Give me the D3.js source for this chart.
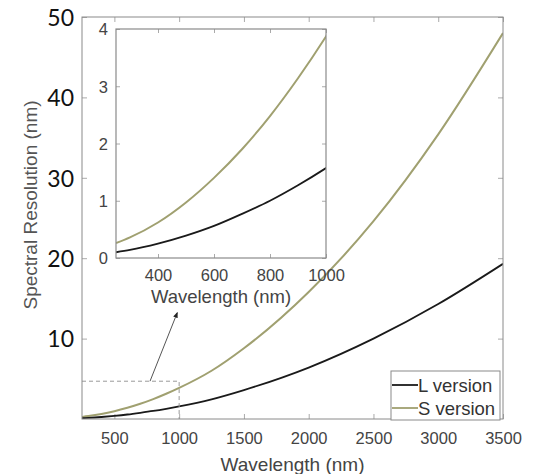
<!DOCTYPE html>
<html><head><meta charset="utf-8">
<script src="https://cdnjs.cloudflare.com/ajax/libs/d3/7.8.5/d3.min.js"></script>
<style>body{margin:0;background:#fff}svg{display:block}</style>
</head><body>
<svg id="c" width="536" height="474"></svg>
<script>
// ---- data ----
const wavelengths = [250, 300, 400, 500, 600, 700, 800, 900, 1000, 1250, 1500, 2000, 2500, 3000, 3500];
const sVersion    = [0.26, 0.36, 0.62, 0.97, 1.40, 1.90, 2.48, 3.14, 3.87, 6.0, 8.8, 15.8, 24.6, 35.4, 48.0];
const lVersion    = [0.10, 0.14, 0.25, 0.39, 0.56, 0.77, 1.00, 1.27, 1.57, 2.45, 3.6, 6.4, 10.0, 14.3, 19.3];
const seriesNames = ["L version", "S version"];
const mainXTicks  = [500, 1000, 1500, 2000, 2500, 3000, 3500];
const mainYTicks  = [10, 20, 30, 40, 50];
const insetXTicks = [400, 600, 800, 1000];
const insetYTicks = [0, 1, 2, 3, 4];
const zoomBoxX = [250, 1000];
const zoomBoxY = [0, 4.7];
const arrowFrom = [775, 4.7];
const arrowTo   = [985, 13.2];

const colors = {"L version": "#1a1a1a", "S version": "#a0a070"};
const seriesData = {"L version": lVersion, "S version": sVersion};

const svg = d3.select("#c");
const axisColor = "#8a8a8a", tickColor = "#aaa", textColor = "#444";

// ---- main chart ----
const M = {l: 82, r: 503, t: 17, b: 419};
const x = d3.scaleLinear().domain([250, 3500]).range([M.l, M.r]);
const y = d3.scaleLinear().domain([0, 50]).range([M.b, M.t]);

svg.append("defs").append("clipPath").attr("id", "mainClip")
  .append("rect").attr("x", M.l).attr("y", M.t).attr("width", M.r - M.l).attr("height", M.b - M.t);
svg.append("defs").append("marker").attr("id", "ah").attr("viewBox", "0 0 10 10")
  .attr("refX", 8).attr("refY", 5).attr("markerWidth", 6).attr("markerHeight", 6).attr("orient", "auto")
  .append("path").attr("d", "M0,1 L10,5 L0,9 z").attr("fill", "#222");

// ticks (inward, all four sides)
const gAx = svg.append("g");
gAx.append("g").attr("transform", `translate(0,${M.b})`)
  .call(d3.axisBottom(x).tickValues(mainXTicks).tickSize(-5).tickFormat(d3.format("d")))
  .call(g => { g.select(".domain").remove(); g.selectAll("line").attr("stroke", tickColor);
    g.selectAll("text").attr("dy", null).attr("y", 25).attr("fill", textColor)
     .style("font-family", "Liberation Sans, Arial, sans-serif").style("font-size", "16.5px"); });
gAx.append("g").attr("transform", `translate(0,${M.t})`)
  .call(d3.axisTop(x).tickValues(mainXTicks).tickSize(-5).tickFormat(""))
  .call(g => { g.select(".domain").remove(); g.selectAll("line").attr("stroke", tickColor); });
gAx.append("g").attr("transform", `translate(${M.l},0)`)
  .call(d3.axisLeft(y).tickValues(mainYTicks).tickSize(-5).tickFormat(d3.format("d")))
  .call(g => { g.select(".domain").remove(); g.selectAll("line").attr("stroke", tickColor);
    g.selectAll("text").attr("x", -8).attr("dy", "0.36em").attr("fill", "#111")
     .style("font-family", "Lato, sans-serif").style("font-size", "23px"); });
gAx.append("g").attr("transform", `translate(${M.r},0)`)
  .call(d3.axisRight(y).tickValues(mainYTicks).tickSize(-5).tickFormat(""))
  .call(g => { g.select(".domain").remove(); g.selectAll("line").attr("stroke", tickColor); });

const lineMain = key => d3.line().curve(d3.curveMonotoneX)
  .x((d, i) => x(wavelengths[i])).y(d => y(d))(seriesData[key]);

const gLines = svg.append("g").attr("clip-path", "url(#mainClip)");
["S version", "L version"].forEach(k => {
  gLines.append("path").attr("d", lineMain(k)).attr("fill", "none")
    .attr("stroke", colors[k]).attr("stroke-width", k === "S version" ? 2 : 1.8);
});

// dashed zoom box
svg.append("path")
  .attr("d", `M${x(zoomBoxX[0])},${y(zoomBoxY[1])} H${x(zoomBoxX[1])} V${y(zoomBoxY[0])}`)
  .attr("fill", "none").attr("stroke", "#999").attr("stroke-width", 1).attr("stroke-dasharray", "4,3");
// arrow
svg.append("line").attr("x1", x(arrowFrom[0])).attr("y1", y(arrowFrom[1]))
  .attr("x2", x(arrowTo[0])).attr("y2", y(arrowTo[1]))
  .attr("stroke", "#555").attr("stroke-width", 1).attr("marker-end", "url(#ah)");

// main box
svg.append("rect").attr("x", M.l).attr("y", M.t).attr("width", M.r - M.l).attr("height", M.b - M.t)
  .attr("fill", "none").attr("stroke", axisColor).attr("stroke-width", 1);

// axis titles
svg.append("text").attr("x", (M.l + M.r) / 2).attr("y", 471).attr("text-anchor", "middle")
  .attr("fill", textColor).style("font-family", "Liberation Sans, Arial, sans-serif").style("font-size", "19px")
  .text("Wavelength (nm)");
svg.append("text").attr("transform", "translate(37,205) rotate(-90)").attr("text-anchor", "middle")
  .attr("fill", "#555").style("font-family", "Liberation Sans, Arial, sans-serif").style("font-size", "19px")
  .text("Spectral Resolution (nm)");

// legend
const L = {x: 391, y: 371, w: 109, h: 49};
svg.append("rect").attr("x", L.x).attr("y", L.y).attr("width", L.w).attr("height", L.h)
  .attr("fill", "#fff").attr("stroke", axisColor).attr("stroke-width", 1);
seriesNames.forEach((k, i) => {
  const yy = L.y + 14 + i * 23;
  svg.append("line").attr("x1", L.x + 1).attr("x2", L.x + 27).attr("y1", yy).attr("y2", yy)
    .attr("stroke", colors[k]).attr("stroke-width", 1.8);
  svg.append("text").attr("x", L.x + 27).attr("y", yy).attr("dy", "0.36em")
    .attr("fill", "#333").style("font-family", "Liberation Sans, Arial, sans-serif").style("font-size", "18.5px")
    .text(k);
});

// ---- inset ----
const I = {l: 116, r: 326, t: 29, b: 258};
const xi = d3.scaleLinear().domain([250, 1000]).range([I.l, I.r]);
const yi = d3.scaleLinear().domain([0, 4]).range([I.b, I.t]);
svg.append("defs").append("clipPath").attr("id", "insetClip")
  .append("rect").attr("x", I.l).attr("y", I.t).attr("width", I.r - I.l).attr("height", I.b - I.t);
svg.append("rect").attr("x", I.l).attr("y", I.t).attr("width", I.r - I.l).attr("height", I.b - I.t)
  .attr("fill", "#fff");

const gi = svg.append("g");
gi.append("g").attr("transform", `translate(0,${I.b})`)
  .call(d3.axisBottom(xi).tickValues(insetXTicks).tickSize(-4).tickFormat(d3.format("d")))
  .call(g => { g.select(".domain").remove(); g.selectAll("line").attr("stroke", tickColor);
    g.selectAll("text").attr("dy", null).attr("y", 23).attr("fill", textColor)
     .style("font-family", "Liberation Sans, Arial, sans-serif").style("font-size", "16.5px"); });
gi.append("g").attr("transform", `translate(0,${I.t})`)
  .call(d3.axisTop(xi).tickValues(insetXTicks).tickSize(-4).tickFormat(""))
  .call(g => { g.select(".domain").remove(); g.selectAll("line").attr("stroke", tickColor); });
gi.append("g").attr("transform", `translate(${I.l},0)`)
  .call(d3.axisLeft(yi).tickValues(insetYTicks).tickSize(-4).tickFormat(d3.format("d")))
  .call(g => { g.select(".domain").remove(); g.selectAll("line").attr("stroke", tickColor);
    g.selectAll("text").attr("x", -8).attr("dy", "0.36em").attr("fill", textColor)
     .style("font-family", "Liberation Sans, Arial, sans-serif").style("font-size", "16.5px"); });
gi.append("g").attr("transform", `translate(${I.r},0)`)
  .call(d3.axisRight(yi).tickValues(insetYTicks).tickSize(-4).tickFormat(""))
  .call(g => { g.select(".domain").remove(); g.selectAll("line").attr("stroke", tickColor); });

const lineInset = key => d3.line().curve(d3.curveMonotoneX)
  .x((d, i) => xi(wavelengths[i])).y(d => yi(d))(seriesData[key]);
const gInL = svg.append("g").attr("clip-path", "url(#insetClip)");
["S version", "L version"].forEach(k => {
  gInL.append("path").attr("d", lineInset(k)).attr("fill", "none")
    .attr("stroke", colors[k]).attr("stroke-width", k === "S version" ? 2 : 1.8);
});
svg.append("rect").attr("x", I.l).attr("y", I.t).attr("width", I.r - I.l).attr("height", I.b - I.t)
  .attr("fill", "none").attr("stroke", axisColor).attr("stroke-width", 1.2);
svg.append("text").attr("x", (I.l + I.r) / 2).attr("y", 303).attr("text-anchor", "middle")
  .attr("fill", textColor).style("font-family", "Liberation Sans, Arial, sans-serif").style("font-size", "18.5px")
  .text("Wavelength (nm)");
</script>
</body></html>
